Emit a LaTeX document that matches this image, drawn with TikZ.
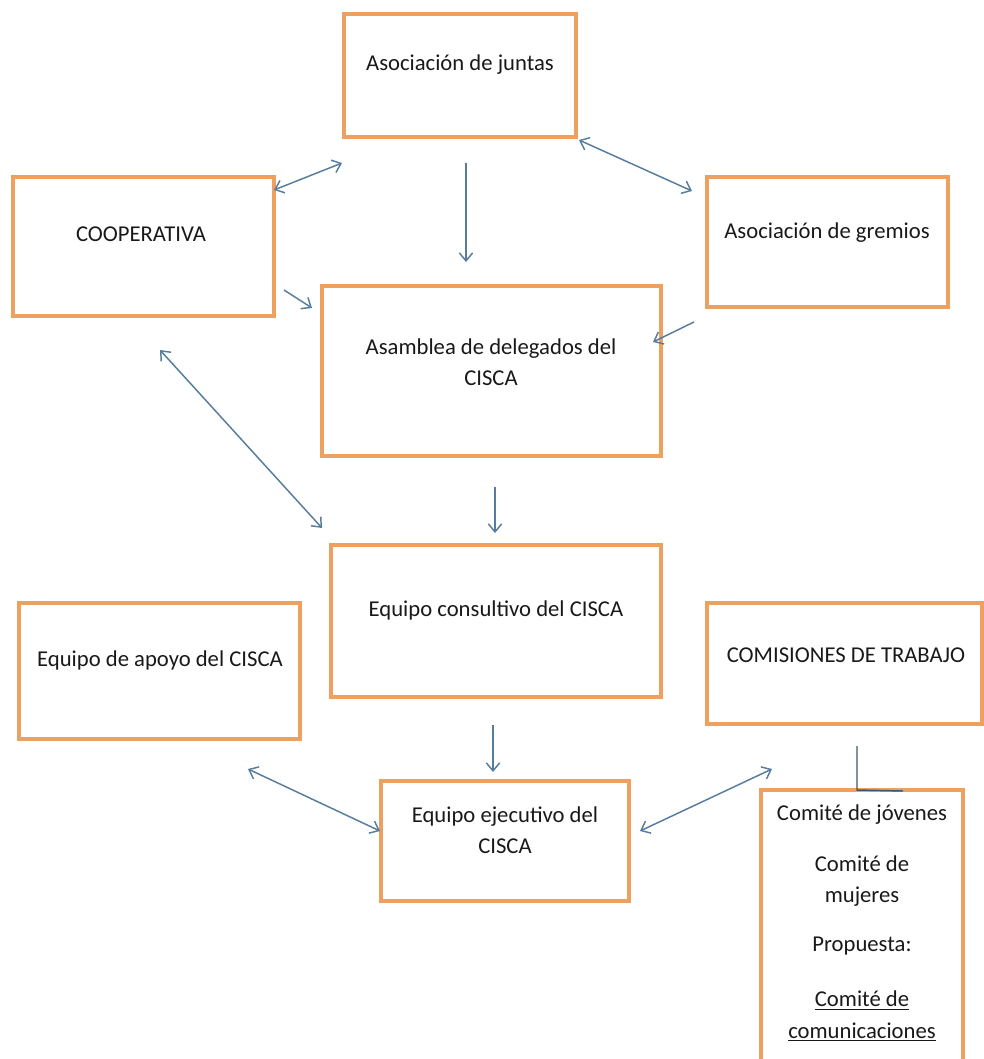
\documentclass[tikz,border=0pt]{standalone}
\usepackage{fontspec}
\setmainfont{Carlito}
\usetikzlibrary{arrows.meta,fit}

\definecolor{boxorange}{RGB}{238,160,95}
\definecolor{arrowblue}{RGB}{86,124,158}

\tikzset{every picture/.style={line width=0.75pt}}
\tikzset{
  orgbox/.style={draw=boxorange, line width=2.4pt, rectangle, inner sep=0pt},
  orgtext/.style={font=\fontsize{17}{23.5}\selectfont, align=center, text=black!90, inner sep=0pt},
  link/.style={draw=arrowblue, line width=1.1pt, -{Straight Barb[length=6pt,width=10pt]}},
  twolink/.style={draw=arrowblue, line width=1.1pt, {Straight Barb[length=6pt,width=10pt]}-{Straight Barb[length=6pt,width=10pt]}},
}

\begin{document}
\begin{tikzpicture}[x=0.75pt,y=0.75pt,yscale=-1,xscale=1]
	\path[use as bounding box] (0,0) rectangle (984,1059);

	%Shape: Rectangle
	\node[orgbox, fit={(344,14) (576,137)}] (juntas) {};
	%Shape: Rectangle
	\node[orgbox, fit={(13,177) (274,316)}] (coop) {};
	%Shape: Rectangle
	\node[orgbox, fit={(707,177) (948,307)}] (gremios) {};
	%Shape: Rectangle
	\node[orgbox, fit={(322,286) (661,456)}] (asamblea) {};
	%Shape: Rectangle
	\node[orgbox, fit={(331,545) (661,697)}] (consultivo) {};
	%Shape: Rectangle
	\node[orgbox, fit={(19,603) (300,739)}] (apoyo) {};
	%Shape: Rectangle
	\node[orgbox, fit={(707,603) (982,724)}] (comisiones) {};
	%Shape: Rectangle
	\node[orgbox, fit={(381,781) (629,901)}] (ejecutivo) {};
	%Shape: Rectangle
	\node[orgbox, fit={(761,790) (963,1075)}] (comites) {};

	% Text Node
	\node[orgtext] (t-juntas) at (460,65) {Asociación de juntas};
	% Text Node
	\node[orgtext] (t-coop) at (141,234) {COOPERATIVA};
	% Text Node
	\node[orgtext] (t-gremios) at (827,233) {Asociación de gremios};
	% Text Node
	\node[orgtext] (t-asamblea) at (491,362) {Asamblea de delegados del\\CISCA};
	% Text Node
	\node[orgtext] (t-consultivo) at (496,610) {Equipo consultivo del CISCA};
	% Text Node
	\node[orgtext] (t-apoyo) at (160,660) {Equipo de apoyo del CISCA};
	% Text Node
	\node[orgtext] (t-comisiones) at (846,655) {COMISIONES DE TRABAJO};
	% Text Node
	\node[orgtext] (t-ejecutivo) at (505,830) {Equipo ejecutivo del\\CISCA};
	% Text Node
	\node[orgtext] (t-jovenes) at (862,815) {Comité de jóvenes};
	% Text Node
	\node[orgtext] (t-mujeres) at (862,881) {Comité de\\mujeres};
	% Text Node
	\node[orgtext] (t-propuesta) at (862,946) {Propuesta:};
	% Text Node
	\node[orgtext] (t-comunic) at (862,1016) {\underline{Comité de}\\\underline{comunicaciones}};

	% arrow ends
	\coordinate (c1a) at (274,190);  \coordinate (c1b) at (342,163);
	\coordinate (c2a) at (579,140);  \coordinate (c2b) at (692,191);
	\coordinate (c3a) at (466,163);  \coordinate (c3b) at (466,262);
	\coordinate (c4a) at (284,290);  \coordinate (c4b) at (312,308);
	\coordinate (c5a) at (694,322);  \coordinate (c5b) at (653,342);
	\coordinate (c6a) at (160,350);  \coordinate (c6b) at (322,528);
	\coordinate (c7a) at (495,487);  \coordinate (c7b) at (495,533);
	\coordinate (c8a) at (493,725);  \coordinate (c8b) at (493,772);
	\coordinate (c9a) at (248,769);  \coordinate (c9b) at (380,831);
	\coordinate (c10a) at (640,831); \coordinate (c10b) at (772,769);
	\coordinate (c11a) at (857,746); \coordinate (c11b) at (857,790);
	\coordinate (c12b) at (903,791);

	%Straight Lines
	\draw[twolink] (c1a) -- (c1b);
	%Straight Lines
	\draw[twolink] (c2a) -- (c2b);
	%Straight Lines
	\draw[link] (c3a) -- (c3b);
	%Straight Lines
	\draw[link] (c4a) -- (c4b);
	%Straight Lines
	\draw[link] (c5a) -- (c5b);
	%Straight Lines
	\draw[twolink] (c6a) -- (c6b);
	%Straight Lines
	\draw[link] (c7a) -- (c7b);
	%Straight Lines
	\draw[link] (c8a) -- (c8b);
	%Straight Lines
	\draw[twolink] (c9a) -- (c9b);
	%Straight Lines
	\draw[twolink] (c10a) -- (c10b);
	%Straight Lines
	\draw[draw=arrowblue!70!black, line width=1.1pt] (c11a) -- (c11b) -- (c12b);

\end{tikzpicture}
\end{document}
